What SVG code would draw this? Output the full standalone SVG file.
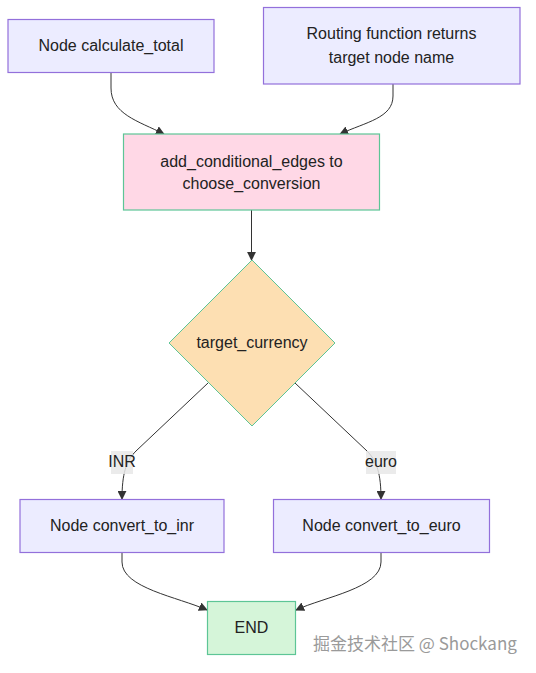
<svg xmlns="http://www.w3.org/2000/svg" width="536" height="673" viewBox="0 0 536 673">
<defs>
<marker id="arrow" viewBox="0 0 10 10" refX="9" refY="5" markerWidth="9" markerHeight="9" markerUnits="userSpaceOnUse" orient="auto">
<path d="M0,0 L10,5 L0,10 z" fill="#333333"/>
</marker>
<style>
text{font-family:"Liberation Sans",Arial,sans-serif;font-size:16px;fill:#222222;text-anchor:middle}
.proc{fill:#ECECFF;stroke:#9370DB;stroke-width:1.2}
.edge{fill:none;stroke:#333333;stroke-width:1;marker-end:url(#arrow)}
.lbl{fill:#E8E8E8;opacity:0.85}
.wm{font-family:"Noto Sans CJK SC","Liberation Sans",sans-serif;font-size:17px;fill:#9a9a9a;text-anchor:start}
</style>
</defs>
<rect width="536" height="673" fill="#ffffff"/>
<g id="connectors">
<path class="edge" d="M111,72 L111,88 C111,114 138,121 164,134"/>
<path class="edge" d="M393,84 L393,96 C393,118 366,122 340,134"/>
<path class="edge" d="M251.5,210 L251.5,260"/>
<path class="edge" d="M208,383 L136,451 C126,461 122,474 122,499"/>
<path class="edge" d="M295,383 L367,451 C377,461 381,474 381,499"/>
<path class="edge" d="M122,552 L122,562 C122,588 178,597 207,610"/>
<path class="edge" d="M381,552 L381,562 C381,588 324,597 296,610"/>
<g id="label-inr"><rect class="lbl" x="111" y="451" width="22" height="23"/><text x="122" y="467">INR</text></g>
<g id="label-euro"><rect class="lbl" x="366" y="451" width="30" height="23"/><text x="381" y="467">euro</text></g>
</g>
<g id="calculate_total">
<rect class="proc" x="8" y="19.5" width="206" height="53"/>
<text x="111" y="51">Node calculate_total</text>
</g>
<g id="routing_function">
<rect class="proc" x="263.5" y="7.5" width="256.5" height="76.5"/>
<text x="391.5" y="39">Routing function returns</text>
<text x="391.5" y="63">target node name</text>
</g>
<g id="add_conditional_edges">
<rect x="123.5" y="134" width="256" height="76" fill="#FFD8E6" stroke="#5DC596" stroke-width="1.2"/>
<text x="251.5" y="166.5">add_conditional_edges to</text>
<text x="251.5" y="189">choose_conversion</text>
</g>
<g id="target_currency">
<polygon points="252,260 335,343 252,426 169,343" fill="#FDDFB2" stroke="#5DC596" stroke-width="1"/>
<text x="252" y="348">target_currency</text>
</g>
<g id="convert_to_inr">
<rect class="proc" x="20" y="499.5" width="204" height="53"/>
<text x="122" y="531">Node convert_to_inr</text>
</g>
<g id="convert_to_euro">
<rect class="proc" x="273.5" y="499.5" width="216" height="53"/>
<text x="381.5" y="531">Node convert_to_euro</text>
</g>
<g id="end">
<rect x="207.5" y="601.5" width="88" height="53" fill="#D5F5D9" stroke="#5DC596" stroke-width="1.2"/>
<text x="251.5" y="633">END</text>
</g>
<text class="wm" x="313" y="650">掘金技术社区 @ Shockang</text>
</svg>
